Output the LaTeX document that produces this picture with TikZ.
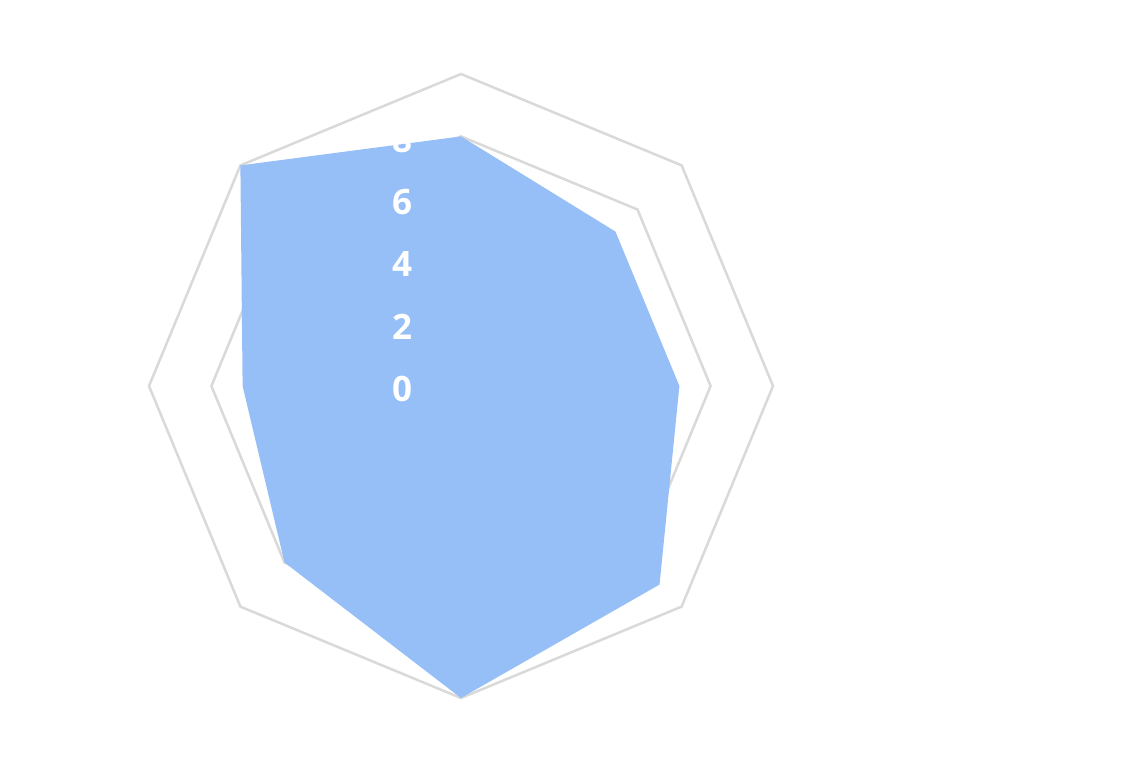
\documentclass[tikz,border=0pt]{standalone}
\usetikzlibrary{calc}
\usepackage{fontspec}
\setmainfont{Open Sans}
\definecolor{radarfill}{RGB}{150,190,247}
\begin{document}
\begin{tikzpicture}[x=1pt,y=-1pt,
  grid/.style={draw=black!15,line width=2.5pt},
  lab/.style={text=white,font=\bfseries\fontsize{35}{35}\selectfont,anchor=center}]
\useasboundingbox (0,0) rectangle (1126,771);
\coordinate (c) at (461,386);
\def\u{31.2}
\foreach \r in {8,10}{
  \draw[grid] ($(c)+(-90:\r*\u)$) \foreach \a in {-45,0,45,90,135,180,-135}{ -- ($(c)+(\a:\r*\u)$)} -- cycle;
}
\fill[radarfill]
  ($(c)+(-90:8*\u)$) -- ($(c)+(-45:7*\u)$) -- ($(c)+(0:7*\u)$) -- ($(c)+(45:9*\u)$)
  -- ($(c)+(90:10*\u)$) -- ($(c)+(135:8*\u)$) -- ($(c)+(180:7*\u)$) -- ($(c)+(-135:10*\u)$) -- cycle;
\foreach \v/\y in {0/389,2/327,4/264,6/202,8/140}{
  \node[lab] (l\v) at (402,\y) {\v};
}
\end{tikzpicture}
\end{document}
